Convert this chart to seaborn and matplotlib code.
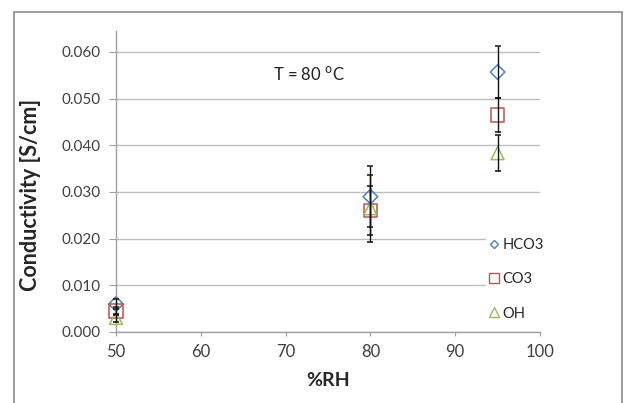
import numpy as np
import pandas as pd
import matplotlib
matplotlib.use("Agg")
import matplotlib.pyplot as plt
import seaborn as sns
from matplotlib.lines import Line2D
from matplotlib.patches import Rectangle

# values
rh = [50, 80, 95]
hco3 = [0.0060, 0.0290, 0.0557]
hco3_err = [0.0010, 0.0065, 0.0055]
co3 = [0.0045, 0.0260, 0.0465]
co3_err = [0.0008, 0.0052, 0.0037]
oh = [0.0030, 0.0265, 0.0383]
oh_err = [0.0008, 0.0072, 0.0039]

series_names = ["HCO3", "CO3", "OH"]
series_vals = [hco3, co3, oh]
series_errs = [hco3_err, co3_err, oh_err]
series_colors = ["#4F81BD", "#C0504D", "#9BBB59"]
series_markers = ["D", "s", "^"]
series_sizes = [55, 95, 85]

sns.set_style("white")
plt.rcParams["font.family"] = ["Lato", "DejaVu Sans"]

fig = plt.figure(figsize=(6.26, 4.03), dpi=100)
ax = fig.add_axes([0.1853, 0.1762, 0.6773, 0.747])

# outer chart border like the spreadsheet chart area
fig.patches.append(Rectangle((14 / 626, -0.1), (622 - 14) / 626, 1.1 - 12 / 403,
                             transform=fig.transFigure, fill=False,
                             edgecolor="#8C8C8C", linewidth=1.2))

for name, vals, errs, col, mk, sz in zip(series_names, series_vals, series_errs,
                                         series_colors, series_markers, series_sizes):
    df = pd.DataFrame({"rh": rh, "cond": vals})
    sns.scatterplot(data=df, x="rh", y="cond", marker=mk, s=sz, ax=ax,
                    color=col, linewidth=1.1, clip_on=False, zorder=3)
    coll = ax.collections[-1]
    coll.set_facecolor("none")
    coll.set_edgecolor(col)
    ax.errorbar(rh, vals, yerr=errs, fmt="none", ecolor="#111111", elinewidth=1.0,
                capsize=2.5, capthick=1.1, zorder=4, clip_on=False)

ax.set_xlim(50, 100)
ax.set_ylim(0, 0.0645)
ax.set_xticks([50, 60, 70, 80, 90, 100])
ax.set_yticks(np.arange(0, 0.061, 0.01))
ax.yaxis.set_major_formatter(matplotlib.ticker.FormatStrFormatter("%.3f"))

ax.grid(axis="y", color="#BEBEBE", linewidth=1)
ax.set_axisbelow(True)
for s in ["top", "right"]:
    ax.spines[s].set_visible(False)
for s in ["left", "bottom"]:
    ax.spines[s].set_color("#A0A0A0")
    ax.spines[s].set_linewidth(1)

ax.tick_params(axis="y", direction="out", length=5, color="#A0A0A0", labelsize=11,
               labelcolor="#404040", pad=6, left=True)
ax.tick_params(axis="x", direction="out", length=3, color="#A0A0A0", labelsize=12,
               labelcolor="#404040", pad=6, bottom=True)

ax.set_xlabel("%RH", fontsize=14, fontweight="bold", labelpad=8)
ax.set_ylabel("Conductivity [S/cm]", fontsize=15.5, fontweight="bold")
ax.yaxis.set_label_coords(-0.178, 0.455)

ax.text(68.5, 0.0553, "T = 80 $^{\\mathrm{o}}$C", fontsize=12, color="#202020",
        va="center", ha="left")

handles = [Line2D([], [], linestyle="none", marker=mk, markersize=ms,
                  markerfacecolor="none", markeredgecolor=col, markeredgewidth=1.0)
           for mk, col, ms in zip(series_markers, series_colors, [4.5, 7.5, 6.5])]
ax.legend(handles, series_names, loc="upper left", bbox_to_anchor=(0.872, 0.318),
          frameon=True, facecolor="white", edgecolor="none", framealpha=1,
          fontsize=10.5, labelspacing=1.4, handletextpad=0.05, handlelength=1.0,
          borderpad=0.1, borderaxespad=0)

fig.savefig("out.png", dpi=100)
